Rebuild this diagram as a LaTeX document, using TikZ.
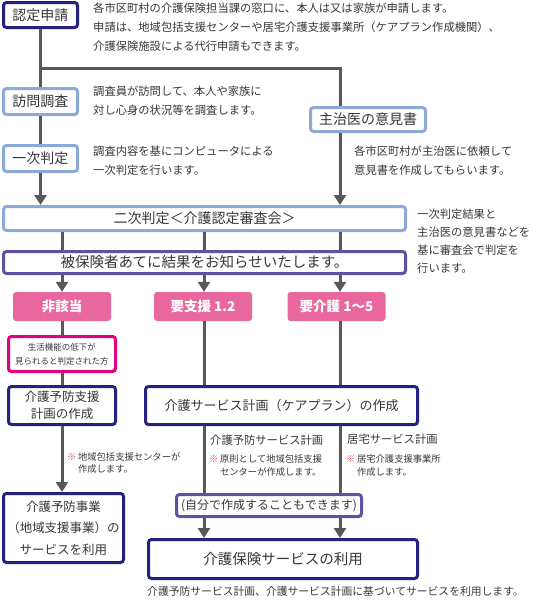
\documentclass[tikz,border=0pt]{standalone}
\usepackage{fontspec}
\setmainfont{Noto Sans CJK JP}
\usepackage{tikz}
\usetikzlibrary{arrows.meta,positioning,calc}
\definecolor{navyline}{RGB}{35,35,130}
\definecolor{paleblue}{RGB}{140,170,216}
\definecolor{violetline}{RGB}{100,80,160}
\definecolor{pinkfill}{RGB}{232,104,158}
\definecolor{magline}{RGB}{228,0,127}
\definecolor{linegray}{RGB}{88,88,88}
\definecolor{txtgray}{RGB}{55,55,55}
\definecolor{komered}{RGB}{235,70,70}
\newcommand{\fs}[2]{\fontsize{#1}{#2}\selectfont}
\newcommand{\kome}{\textcolor{komered}{※}}

\begin{document}
\begin{tikzpicture}[x=1pt, y=-1pt, >={Triangle[width=12pt,length=10pt]},
  flow/.style={draw=linegray, line width=3pt},
  flowbox/.style={draw, line width=3pt, rounded corners=3pt, fill=white, text=txtgray, inner sep=0pt, align=center},
  navybox/.style={flowbox, draw=navyline},
  bluebox/.style={flowbox, draw=paleblue},
  violetbox/.style={flowbox, draw=violetline},
  pinkbox/.style={fill=pinkfill, text=white, rounded corners=3pt, inner sep=0pt, minimum width=98pt, minimum height=29pt, font=\fs{13.5}{16}\bfseries},
  desc/.style={text=txtgray, inner sep=0pt, anchor=north west, align=left, font=\fs{11.3}{19}},
  subnote/.style={text=txtgray, inner sep=0pt, anchor=north west, font=\fs{9.3}{12.5}}]
  \useasboundingbox (0,0) rectangle (540,600);

  % columns of the lower part
  \coordinate (colA) at (62,0);
  \coordinate (colB) at (204,0);
  \coordinate (colC) at (340,0);
  \coordinate (branch) at (40.5,68);

  % application and survey
  \node[navybox, minimum width=74pt, minimum height=25pt, font=\fs{14}{16}] (shinsei) at (40.5,15) {認定申請};
  \node[bluebox, minimum width=74pt, minimum height=26pt, font=\fs{14}{16}] (houmon) at (40.5,101.5) {訪問調査};
  \node[bluebox, minimum width=74pt, minimum height=26pt, font=\fs{14}{16}] (ichiji) at (40.5,158.5) {一次判定};
  \node[bluebox, minimum width=115pt, minimum height=24pt, font=\fs{14}{16}] (shujii) at (368,119.5) {主治医の意見書};
  \node[bluebox, minimum width=402pt, minimum height=24pt, font=\fs{14}{16}] (niji) at (204.5,218.5) {二次判定＜介護認定審査会＞};
  \node[violetbox, minimum width=402pt, minimum height=22pt, font=\fs{14.5}{16}] (tsuchi) at (204.5,262.5) {被保険者あてに結果をお知らせいたします。};

  % results
  \node[pinkbox] (higai) at (62,306.5) {非該当};
  \node[pinkbox] (shien) at (203,306.5) {要支援 1.2};
  \node[pinkbox] (kaigo) at (336.5,306.5) {要介護 1〜5};

  % plans and services
  \node[flowbox, draw=magline, minimum width=107pt, minimum height=35pt, font=\fs{8.5}{14}] (seikatsu) at (62,354) {生活機能の低下が\\見られると判定された方};
  \node[navybox, minimum width=107pt, minimum height=38pt, font=\fs{12.5}{17}] (yplan) at (62,405.5) {介護予防支援\\計画の作成};
  \node[navybox, minimum width=272pt, minimum height=38pt, font=\fs{13}{16}] (cplan) at (281.5,405.5) {介護サービス計画（ケアプラン）の作成};
  \node[navybox, minimum width=120pt, minimum height=69pt, font=\fs{12.5}{21.5}] (yjigyo) at (63.5,528) {介護予防事業\\（地域支援事業）の\\サービスを利用};
  \node[violetbox, minimum width=185pt, minimum height=22pt, font=\fs{12}{14}] (jibun) at (269,505.5) {(自分で作成することもできます)};
  \node[navybox, minimum width=269pt, minimum height=39pt, font=\fs{14.5}{16}] (riyo) at (283,559) {介護保険サービスの利用};

  % explanations
  \node[desc] (d-shinsei) at (93,2.5) {各市区町村の介護保険担当課の窓口に、本人は又は家族が申請します。\\申請は、地域包括支援センターや居宅介護支援事業所（ケアプラン作成機関）、\\介護保険施設による代行申請もできます。};
  \node[desc] (d-houmon) at (93,85.5) {調査員が訪問して、本人や家族に\\対し心身の状況等を調査します。};
  \node[desc] (d-ichiji) at (93,146) {調査内容を基にコンピュータによる\\一次判定を行います。};
  \node[desc] (d-shujii) at (354,146) {各市区町村が主治医に依頼して\\意見書を作成してもらいます。};
  \node[desc, font=\fs{11.3}{18}] (d-niji) at (417,208.6) {一次判定結果と\\主治医の意見書などを\\基に審査会で判定を\\行います。};
  \node[desc] (l-yobo) at (210,434.3) {介護予防サービス計画};
  \node[desc] (l-kyotaku) at (347,434.3) {居宅サービス計画};
  \node[subnote] (n-yplan) at (67,451.5) {\begin{tabular}{@{}l@{\,}l@{}}\kome & 地域包括支援センターが\\ & 作成します。\end{tabular}};
  \node[subnote] (n-yobo) at (209,453.7) {\begin{tabular}{@{}l@{\,}l@{}}\kome & 原則として地域包括支援\\ & センターが作成します。\end{tabular}};
  \node[subnote] (n-kyotaku) at (346,453.7) {\begin{tabular}{@{}l@{\,}l@{}}\kome & 居宅介護支援事業所\\ & 作成します。\end{tabular}};
  \node[desc, font=\fs{10.8}{13}] (d-riyo) at (147,586.5) {介護予防サービス計画、介護サービス計画に基づいてサービスを利用します。};

  % connectors
  \draw[flow] (shinsei) -- (houmon);
  \draw[flow] (houmon) -- (ichiji);
  \draw[flow] (branch) -| (colC |- shujii.north);
  \draw[flow, ->] (ichiji) -- (ichiji |- niji.north);
  \draw[flow, ->] (colC |- shujii.south) -- (colC |- niji.north);
  \foreach \c/\n in {colA/higai, colB/shien, colC/kaigo} {
    \draw[flow] (\c |- niji.south) -- (\c |- tsuchi.north);
    \draw[flow, ->] (\c |- tsuchi.south) -- (\c |- \n.north);
  }
  \draw[flow] (colA |- higai.south) -- (colA |- seikatsu.north);
  \draw[flow] (colA |- seikatsu.south) -- (colA |- yplan.north);
  \draw[flow, ->] (colA |- yplan.south) -- (colA |- yjigyo.north);
  \foreach \c/\n in {colB/shien, colC/kaigo} {
    \draw[flow] (\c |- \n.south) -- (\c |- cplan.north);
    \draw[flow] (\c |- cplan.south) -- (\c |- jibun.north);
    \draw[flow, ->] (\c |- jibun.south) -- (\c |- riyo.north);
  }
\end{tikzpicture}
\end{document}
